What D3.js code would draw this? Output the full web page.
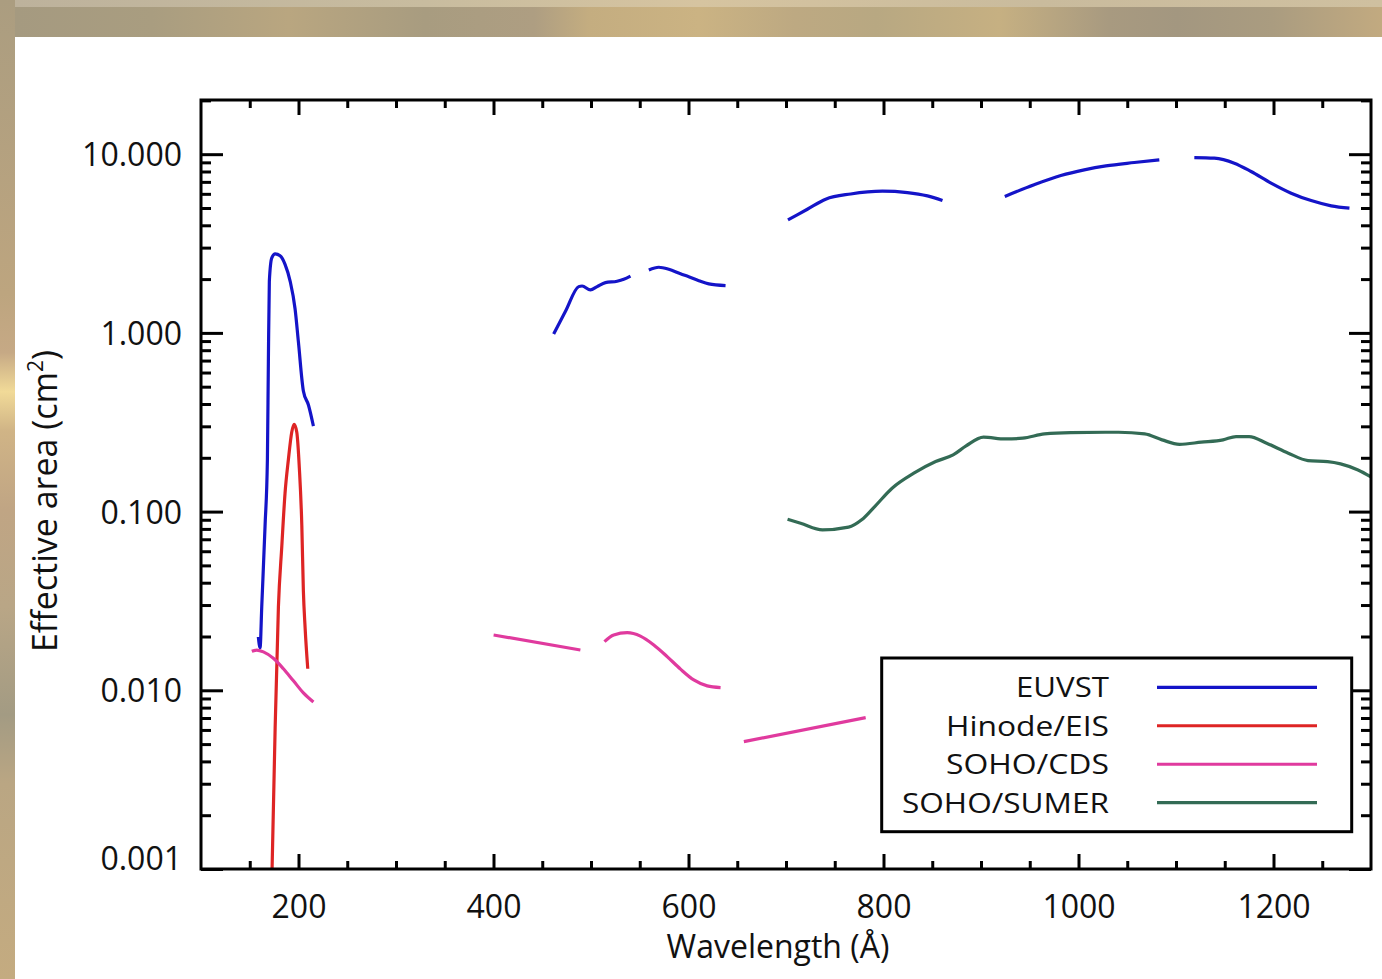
<!DOCTYPE html>
<html>
<head>
<meta charset="utf-8">
<script src="https://cdn.jsdelivr.net/npm/d3@7"></script>
<style>
  html, body { margin: 0; padding: 0; background: #b8a57f; }
  svg { display: block; }
  text { font-family: "Open Sans", "Noto Sans", sans-serif; fill: #111; }
</style>
</head>
<body>
<svg id="chart" width="1382" height="979"></svg>
<script>
// ---------------- data (wavelength in Å, effective area in cm^2) ----------------
const seriesNames = ["EUVST", "Hinode/EIS", "SOHO/CDS", "SOHO/SUMER"];
const seriesColors = ["#1414c8", "#de2424", "#e03a9e", "#336b55"];

const euvstSeg1 = [[158.8,0.0199],[160.6,0.0173],[162.3,0.0293],[165.7,0.0832],[168.1,0.195],[169.1,0.689],[170.1,1.95],[172.6,2.63],[176.0,2.77],[181.1,2.70],[186.2,2.42],[191.4,1.95],[196.5,1.36],[199.9,0.89],[205.0,0.473],[210.2,0.395],[215.3,0.301]];
const euvstSeg2 = [[461.7,0.987],[473.7,1.316],[487.4,1.815],[490.9,1.83],[499.4,1.74],[506.3,1.815],[514.8,1.91],[526.8,1.945],[533.6,1.996],[540.5,2.08]];
const euvstSeg3 = [[559.3,2.25],[569.5,2.33],[579.8,2.27],[591.8,2.14],[600.3,2.06],[610.6,1.96],[620.8,1.88],[638.0,1.84]];
const euvstSeg4 = [[702.0,4.29],[721.9,4.92],[740.7,5.60],[766.4,5.99],[798.9,6.21],[824.5,6.10],[845.1,5.84],[860.5,5.50]];
const euvstSeg5 = [[924.4,5.80],[954.5,6.74],[981.9,7.59],[1005.9,8.17],[1028.1,8.60],[1057.2,8.98],[1082.9,9.29]];
const euvstSeg6 = [[1118.8,9.57],[1139.3,9.50],[1159.8,8.91],[1177.0,8.00],[1197.5,6.89],[1218.1,6.05],[1238.6,5.50],[1259.2,5.14],[1277.9,4.99]];

const eisSeg1 = [[172.9,0.001],[176.0,0.0060],[179.4,0.0293],[182.9,0.0643],[186.2,0.127],[189.6,0.195],[193.1,0.279],[195.5,0.308],[198.2,0.279],[200.9,0.174],[203.4,0.0836],[205.0,0.036],[206.8,0.0223],[209.5,0.0132]];

const cdsSeg1 = [[152.1,0.01653],[157.2,0.0168],[164.0,0.0164],[174.2,0.0151],[184.5,0.0132],[194.8,0.0113],[205.0,0.00967],[215.3,0.0086]];
const cdsSeg2 = [[400.1,0.0204],[489.1,0.0168]];
const cdsSeg3 = [[513.8,0.01873],[523.3,0.0204],[537.1,0.0210],[550.7,0.0201],[564.4,0.01794],[578.1,0.01544],[591.8,0.01313],[605.4,0.01143],[619.2,0.01059],[632.9,0.01036]];
const cdsSeg4 = [[656.8,0.00516],[781.7,0.00703]];

const sumerSeg1 = [[701.6,0.0906],[715.0,0.0861],[737.4,0.0790],[764.2,0.0818],[777.6,0.0899],[791.0,0.1067],[808.8,0.1352],[831.1,0.164],[853.5,0.1905],[871.4,0.2076],[884.7,0.233],[902.6,0.2608],[924.9,0.255],[942.8,0.2575],[965.1,0.272],[991.9,0.2768],[1041.1,0.278],[1067.9,0.272],[1085.7,0.252],[1103.6,0.238],[1125.9,0.2445],[1148.3,0.252],[1161.6,0.263],[1175.0,0.263],[1193.0,0.2415],[1215.2,0.2123],[1235.4,0.1929],[1255.5,0.1905],[1268.8,0.185],[1286.7,0.171],[1302.3,0.1538]];

const seriesSegments = [
  [euvstSeg1, euvstSeg2, euvstSeg3, euvstSeg4, euvstSeg5, euvstSeg6],
  [eisSeg1],
  [cdsSeg1, cdsSeg2, cdsSeg3, cdsSeg4],
  [sumerSeg1]
];

const xDomain = [100, 1300];
const yDomain = [0.001, 20.1];
const xMajorTicks = [200, 400, 600, 800, 1000, 1200];
const yMajorTicks = [0.001, 0.01, 0.1, 1, 10];
const yTickLabels = ["0.001", "0.010", "0.100", "1.000", "10.000"];
const xTitle = "Wavelength (Å)";
const yTitle = "Effective area (cm";

(function () {
// ---------------- layout ----------------
const svg = d3.select("#chart");
const W = 1382, H = 979;
const pL = 201, pR = 1371, pT = 100, pB = 869;

// ---------------- background ----------------
const defs = svg.append("defs");
const gLeft = defs.append("linearGradient").attr("id", "bgLeft").attr("x1", 0).attr("y1", 0).attr("x2", 0).attr("y2", 1);
[[0,"#ab9d80"],[0.3,"#bda57f"],[0.36,"#c6a985"],[0.4,"#f1da98"],[0.44,"#d0b486"],[0.52,"#c0a584"],[0.62,"#b9a686"],[0.73,"#a39b83"],[0.8,"#baa683"],[1,"#c4ab80"]]
  .forEach(s => gLeft.append("stop").attr("offset", s[0]).attr("stop-color", s[1]));
const gTop = defs.append("linearGradient").attr("id", "bgTop").attr("x1", 0).attr("y1", 0).attr("x2", 1).attr("y2", 0);
[[0,"#a59a80"],[0.1,"#a99d80"],[0.2,"#b9a680"],[0.3,"#a89c80"],[0.38,"#ae9e82"],[0.42,"#c4ad80"],[0.5,"#cbb383"],[0.57,"#bda982"],[0.63,"#b8a882"],[0.72,"#c6b082"],[0.8,"#a89a80"],[0.85,"#a39780"],[0.92,"#aa9c80"],[1,"#c2aa80"]]
  .forEach(s => gTop.append("stop").attr("offset", s[0]).attr("stop-color", s[1]));
const gBand = defs.append("linearGradient").attr("id", "bgBand").attr("x1", 0).attr("y1", 0).attr("x2", 1).attr("y2", 0);
[[0,"#bdb29c"],[0.3,"#c8bc9f"],[0.5,"#d6c4a0"],[0.75,"#c9bb9d"],[1,"#cfc0a0"]]
  .forEach(s => gBand.append("stop").attr("offset", s[0]).attr("stop-color", s[1]));

svg.append("rect").attr("x", 0).attr("y", 0).attr("width", W).attr("height", H).attr("fill", "url(#bgLeft)");
svg.append("rect").attr("x", 15).attr("y", 0).attr("width", W - 15).attr("height", 37).attr("fill", "url(#bgTop)");
svg.append("rect").attr("x", 15).attr("y", 0).attr("width", W - 15).attr("height", 7).attr("fill", "url(#bgBand)");
svg.append("rect").attr("x", 15).attr("y", 37).attr("width", W - 15).attr("height", H - 37).attr("fill", "#ffffff");

// ---------------- scales ----------------
const x = d3.scaleLinear().domain(xDomain).range([pL, pR]);
const y = d3.scaleLog().domain(yDomain).range([pB, pT]);

defs.append("clipPath").attr("id", "plotClip")
  .append("rect").attr("x", pL).attr("y", pT).attr("width", pR - pL).attr("height", pB - pT);

// ---------------- curves ----------------
const line = d3.line().x(d => x(d[0])).y(d => y(d[1])).curve(d3.curveMonotoneX);
const curves = svg.append("g").attr("clip-path", "url(#plotClip)");
seriesSegments.forEach((segs, i) => {
  segs.forEach(seg => {
    curves.append("path").attr("d", line(seg))
      .attr("fill", "none").attr("stroke", seriesColors[i])
      .attr("stroke-width", 3.2).attr("stroke-linejoin", "round").attr("stroke-linecap", "butt");
  });
});

// ---------------- axes ----------------
const xMinor = d3.range(150, 1300, 50).filter(v => !xMajorTicks.includes(v));
const yMinor = [];
[0.001, 0.01, 0.1, 1, 10].forEach(d => { for (let k = 2; k <= 9; k++) { const v = d * k; if (v < yDomain[1]) yMinor.push(v); } });

const axBottom = d3.axisBottom(x).tickValues(xMajorTicks).tickSize(-15).tickFormat(d3.format("d")).tickPadding(0);
const axBottomMinor = d3.axisBottom(x).tickValues(xMinor).tickSize(-8).tickFormat("");
const axTop = d3.axisTop(x).tickValues(xMajorTicks).tickSize(-15).tickFormat("");
const axTopMinor = d3.axisTop(x).tickValues(xMinor).tickSize(-8).tickFormat("");
const axLeft = d3.axisLeft(y).tickValues(yMajorTicks).tickSize(-22).tickFormat((d, i) => yTickLabels[i]);
const axLeftMinor = d3.axisLeft(y).tickValues(yMinor).tickSize(-10).tickFormat("");
const axRight = d3.axisRight(y).tickValues(yMajorTicks).tickSize(-22).tickFormat("");
const axRightMinor = d3.axisRight(y).tickValues(yMinor).tickSize(-10).tickFormat("");

function styleAxis(g) {
  g.select(".domain").remove();
  g.selectAll(".tick line").attr("stroke", "#000").attr("stroke-width", 3);
}

const gB = svg.append("g").attr("transform", `translate(0,${pB})`).call(axBottom).call(styleAxis);
gB.selectAll(".tick text").attr("y", 26).attr("dy", "0.71em").attr("font-size", 32)
  .attr("font-family", "Open Sans, Noto Sans, sans-serif").attr("fill", "#111");
svg.append("g").attr("transform", `translate(0,${pB})`).call(axBottomMinor).call(styleAxis);
svg.append("g").attr("transform", `translate(0,${pT})`).call(axTop).call(styleAxis);
svg.append("g").attr("transform", `translate(0,${pT})`).call(axTopMinor).call(styleAxis);
const gL = svg.append("g").attr("transform", `translate(${pL},0)`).call(axLeft).call(styleAxis);
gL.selectAll(".tick text").attr("x", -19).attr("dy", d => d === yDomain[0] ? "0.0em" : "0.36em")
  .attr("font-size", 32)
  .attr("font-family", "Open Sans, Noto Sans, sans-serif").attr("fill", "#111");
svg.append("g").attr("transform", `translate(${pL},0)`).call(axLeftMinor).call(styleAxis);
svg.append("g").attr("transform", `translate(${pR},0)`).call(axRight).call(styleAxis);
svg.append("g").attr("transform", `translate(${pR},0)`).call(axRightMinor).call(styleAxis);

// frame
svg.append("rect").attr("x", pL).attr("y", pT).attr("width", pR - pL).attr("height", pB - pT)
  .attr("fill", "none").attr("stroke", "#000").attr("stroke-width", 3);

// titles
svg.append("text").attr("x", (pL + pR) / 2 - 8).attr("y", 958)
  .attr("text-anchor", "middle").attr("font-size", 32).text(xTitle);
const yt = svg.append("text").attr("transform", "translate(57,501) rotate(-90)")
  .attr("text-anchor", "middle").attr("font-size", 34);
yt.append("tspan").text(yTitle);
yt.append("tspan").attr("font-size", 21).attr("dy", -14).text("2");
yt.append("tspan").attr("dy", 14).text(")");

// ---------------- legend ----------------
const legendTextWidths = [93, 163, 163, 207];
const lg = svg.append("g");
lg.append("rect").attr("x", 881.7).attr("y", 658).attr("width", 470).attr("height", 173.7)
  .attr("fill", "#fff").attr("stroke", "#000").attr("stroke-width", 3);
const legendY = d3.scalePoint().domain(seriesNames).range([687.3, 802.7]);
seriesNames.forEach((name, i) => {
  const yy = legendY(name);
  lg.append("text").attr("x", 1109).attr("y", yy).attr("dy", "0.36em")
    .attr("text-anchor", "end").attr("font-size", 28)
    .attr("textLength", legendTextWidths[i]).attr("lengthAdjust", "spacingAndGlyphs")
    .text(name);
  lg.append("line").attr("x1", 1157).attr("x2", 1317).attr("y1", yy).attr("y2", yy)
    .attr("stroke", seriesColors[i]).attr("stroke-width", 3.2);
});
})();
</script>
</body>
</html>
